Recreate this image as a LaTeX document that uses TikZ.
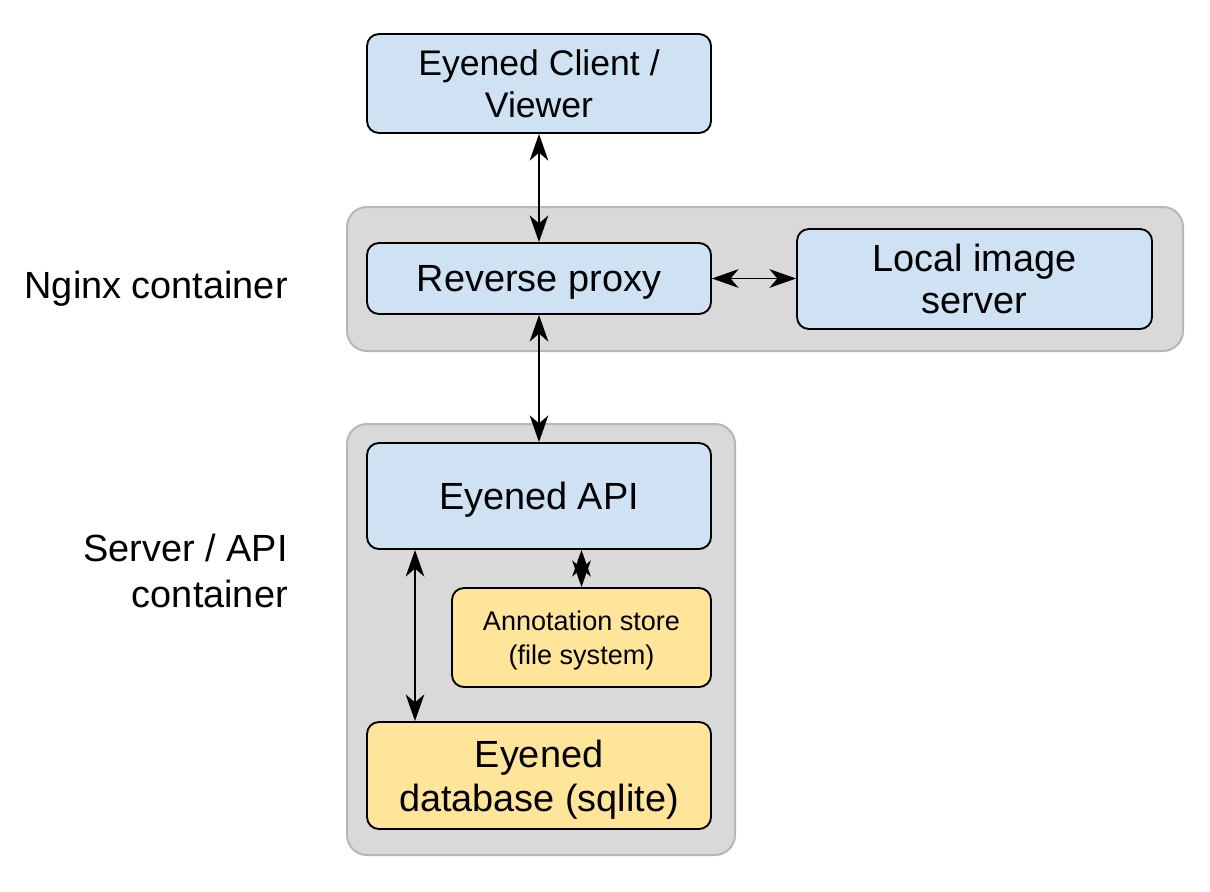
\documentclass[tikz,border=0pt]{standalone}
\usepackage{fontspec}
\setmainfont{Liberation Sans}
\usetikzlibrary{arrows.meta,calc}
\definecolor{boxblue}{HTML}{CFE2F3}
\definecolor{boxyellow}{HTML}{FFE599}
\definecolor{contgray}{HTML}{D9D9D9}
\definecolor{contedge}{HTML}{B7B7B7}
\tikzset{tipA/.tip={Stealth[length=20pt,width=14pt,inset=6pt]}}
\begin{document}
\begin{tikzpicture}[x=0.75pt,y=-0.75pt,
  container/.style={draw=contedge,fill=contgray,line width=1.5pt,rounded corners=15pt,inner sep=0pt},
  bluebox/.style={draw=black,fill=boxblue,line width=1.4pt,rounded corners=9pt,align=center,inner sep=0pt,font=\fontsize{28.4pt}{31.5pt}\selectfont},
  yellowbox/.style={draw=black,fill=boxyellow,line width=1.4pt,rounded corners=9pt,align=center,inner sep=0pt},
  caption/.style={align=right,anchor=east,inner sep=0pt,font=\fontsize{28.4pt}{34.5pt}\selectfont},
  link/.style={tipA-tipA,line width=1.4pt}
]
\path[use as bounding box] (0,0) rectangle (1210,892);
% containers
\node[container,minimum width=627pt,minimum height=108pt] (nginx) at (765,279) {};
\node[container,minimum width=291pt,minimum height=323.25pt] (server) at (541,639.5) {};
% boxes
\node[bluebox,minimum width=258pt,minimum height=74.25pt,font=\fontsize{26.7pt}{31.5pt}\selectfont] (client) at (539,83.5) {Eyened Client /\\Viewer};
\node[bluebox,minimum width=258pt,minimum height=53.25pt,text depth=0pt] (proxy) at (539,278.5) {Reverse proxy};
\node[bluebox,minimum width=266.25pt,minimum height=75pt] (local) at (974.5,279) {Local image\\server};
\node[bluebox,minimum width=258pt,minimum height=79.5pt,text depth=0pt] (api) at (539,496) {Eyened API};
\node[yellowbox,minimum width=194.25pt,minimum height=74.25pt,text depth=0pt,font=\fontsize{20.3pt}{25.5pt}\selectfont] (ann) at (581.5,637.5) {Annotation store\\(file system)};
\node[yellowbox,minimum width=258pt,minimum height=80.25pt,text depth=0pt,font=\fontsize{28.4pt}{33pt}\selectfont] (db) at (539,775.5) {Eyened\\database (sqlite)};
% captions
\node[caption] (lnginx) at (288,289) {Nginx container};
\node[caption] (lserver) at (288,571) {Server / API\\container};
% connectors
\draw[link] (client.south) -- (proxy.north);
\draw[link] (proxy.east) -- (local.west |- proxy.east);
\draw[link] (proxy.south) -- (api.north);
\draw[link] ([xshift=-93pt]api.south) -- ([xshift=-93pt]db.north);
\draw[link] (ann.north |- api.south) -- (ann.north);
\end{tikzpicture}
\end{document}
